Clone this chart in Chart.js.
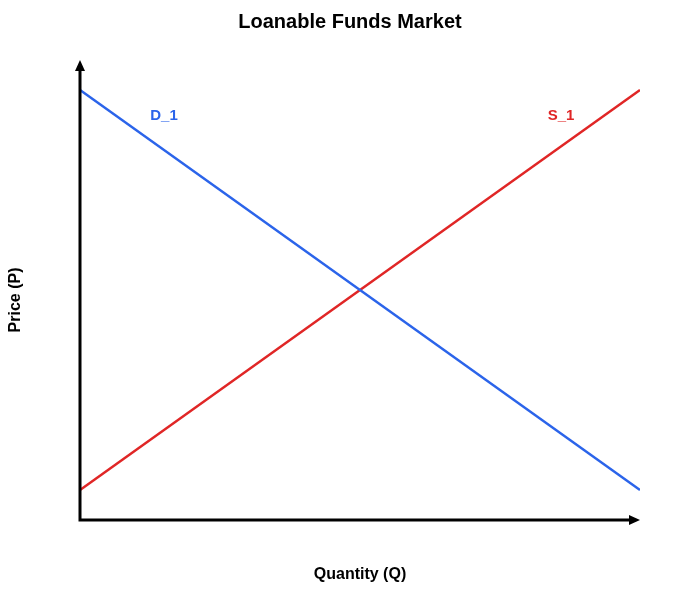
<!DOCTYPE html>
<html>
<head>
<meta charset="utf-8">
<script src="https://cdn.jsdelivr.net/npm/chart.js@4"></script>
<style>
	html, body { margin: 0; padding: 0; background: #fff; }
	#wrap { width: 700px; height: 600px; }
</style>
</head>
<body>
<div id="wrap"><canvas id="fundsChart" width="700" height="600"></canvas></div>
<script>
"use strict";

// curve end points (quantity, price) in chart units
const quantity = [0, 10];
const demandPrice = [10, 0];
const supplyPrice = [0, 10];

const seriesNames = ["D_1", "S_1"];
// where the curve labels sit, in chart units
const labelQuantity = [1.5, 8.59];
const labelPrice = [9.35, 9.35];

const chartTitle = "Loanable Funds Market";
const xTitle = "Quantity (Q)";
const yTitle = "Price (P)";

const BLUE = "#2b64ea";
const RED = "#e02626";
const FONT = "'Liberation Sans', Arial, sans-serif";

function points(xs, ys){
	return xs.map((x, i) => ({x: x, y: ys[i]}));
}

const decorations = {
	id: "decorations",
	afterDraw(chart){
		const ctx = chart.ctx;
		const area = chart.chartArea;
		const xs = chart.scales.x;
		const ys = chart.scales.y;

		ctx.save();
		// axes with arrow heads
		ctx.strokeStyle = "#000";
		ctx.fillStyle = "#000";
		ctx.lineWidth = 3;
		ctx.beginPath();
		ctx.moveTo(area.left, area.top + 8);
		ctx.lineTo(area.left, area.bottom);
		ctx.lineTo(area.right - 8, area.bottom);
		ctx.stroke();

		ctx.beginPath();
		ctx.moveTo(area.left, area.top);
		ctx.lineTo(area.left - 5, area.top + 11);
		ctx.lineTo(area.left + 5, area.top + 11);
		ctx.closePath();
		ctx.fill();

		ctx.beginPath();
		ctx.moveTo(area.right, area.bottom);
		ctx.lineTo(area.right - 11, area.bottom - 5);
		ctx.lineTo(area.right - 11, area.bottom + 5);
		ctx.closePath();
		ctx.fill();

		// titles
		ctx.textAlign = "center";
		ctx.textBaseline = "middle";
		ctx.font = "bold 20px " + FONT;
		ctx.fillText(chartTitle, 350, 22);

		ctx.font = "bold 16px " + FONT;
		ctx.fillText(xTitle, 360, 575);

		ctx.save();
		ctx.translate(16, 300);
		ctx.rotate(-Math.PI / 2);
		ctx.fillText(yTitle, 0, 0);
		ctx.restore();

		// curve labels
		ctx.font = "bold 15px " + FONT;
		const colors = [BLUE, RED];
		seriesNames.forEach((name, i) => {
			ctx.fillStyle = colors[i];
			ctx.fillText(name, xs.getPixelForValue(labelQuantity[i]), ys.getPixelForValue(labelPrice[i]));
		});
		ctx.restore();
	}
};

const ctx = document.querySelector("#fundsChart").getContext("2d");
new Chart(ctx, {
	type: "line",
	data: {
		datasets: [{
			label: seriesNames[0],
			data: points(quantity, demandPrice),
			borderColor: BLUE,
			borderWidth: 2.5,
			pointRadius: 0
		}, {
			label: seriesNames[1],
			data: points(quantity, supplyPrice),
			borderColor: RED,
			borderWidth: 2.5,
			pointRadius: 0
		}]
	},
	options: {
		responsive: false,
		animation: false,
		layout: {
			padding: {left: 80, right: 60, top: 60, bottom: 80}
		},
		plugins: {
			legend: {display: false},
			title: {display: false},
			tooltip: {enabled: false}
		},
		scales: {
			x: {type: "linear", min: 0, max: 10, display: false},
			y: {type: "linear", min: -0.75, max: 10.75, display: false}
		}
	},
	plugins: [decorations]
});
</script>
</body>
</html>
